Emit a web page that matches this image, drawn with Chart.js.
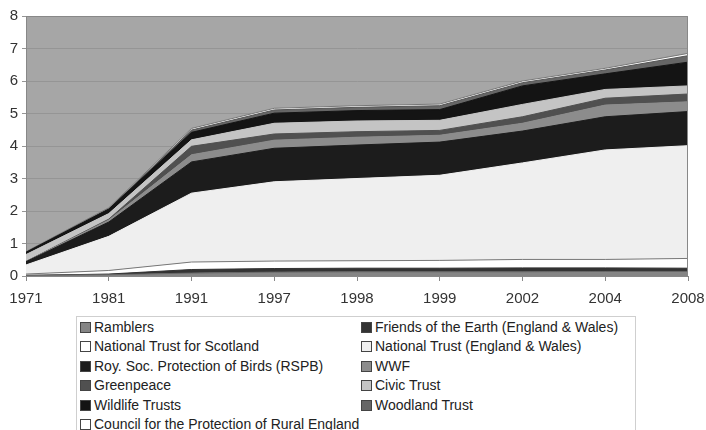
<!DOCTYPE html>
<html>
<head>
<meta charset="utf-8">
<script src="https://cdn.jsdelivr.net/npm/chart.js@4.4.0/dist/chart.umd.min.js"></script>
<style>
    body { margin: 0; background: #fff; width: 706px; height: 430px; overflow: hidden; position: relative; font-family: "Liberation Sans", Arial, sans-serif; }
    #wrap { position: absolute; left: 0; top: 0; width: 706px; height: 310px; }
    #legend { position: absolute; left: 76px; top: 316px; width: 560px; height: 130px; border: 1px solid #cfcfcf; box-sizing: border-box; }
    .item { position: absolute; font-size: 14px; color: #222; white-space: nowrap; line-height: 16px; }
    .box { display: inline-block; width: 9px; height: 9px; border: 1px solid #444; margin-right: 3px; vertical-align: -1px; }
</style>
</head>
<body>
<div id="wrap"><canvas id="myChart"></canvas></div>
<div id="legend"></div>
<script>
// membership, millions
const years = ["1971", "1981", "1991", "1997", "1998", "1999", "2002", "2004", "2008"];

const ramblers      = [0.02, 0.04, 0.09, 0.12, 0.13, 0.13, 0.13, 0.14, 0.14];
const friendsEarth  = [0.00, 0.02, 0.11, 0.11, 0.11, 0.11, 0.12, 0.11, 0.10];
const ntScotland    = [0.04, 0.11, 0.23, 0.23, 0.23, 0.24, 0.26, 0.26, 0.30];
const ntEngland     = [0.28, 1.05, 2.12, 2.44, 2.53, 2.62, 2.97, 3.37, 3.47];
const rspb          = [0.10, 0.44, 0.96, 1.03, 1.03, 1.02, 0.98, 1.02, 1.05];
const wwf           = [0.01, 0.06, 0.22, 0.25, 0.24, 0.21, 0.24, 0.36, 0.30];
const greenpeace    = [0.00, 0.03, 0.26, 0.19, 0.17, 0.15, 0.20, 0.21, 0.24];
const civicTrust    = [0.21, 0.17, 0.20, 0.33, 0.33, 0.31, 0.38, 0.27, 0.25];
const wildlife      = [0.07, 0.14, 0.23, 0.31, 0.32, 0.33, 0.57, 0.48, 0.73];
const woodland      = [0.00, 0.01, 0.07, 0.10, 0.10, 0.12, 0.10, 0.12, 0.20];
const cpre          = [0.02, 0.03, 0.05, 0.05, 0.05, 0.05, 0.05, 0.05, 0.07];

const yTicks = [0, 1, 2, 3, 4, 5, 6, 7, 8];

const series = [
    { label: "Ramblers", data: ramblers, fill: "#858585", line: "#666" },
    { label: "Friends of the Earth (England & Wales)", data: friendsEarth, fill: "#333333", line: "#333" },
    { label: "National Trust for Scotland", data: ntScotland, fill: "#ffffff", line: "#777" },
    { label: "National Trust (England & Wales)", data: ntEngland, fill: "#efefef", line: "#efefef" },
    { label: "Roy. Soc. Protection of Birds (RSPB)", data: rspb, fill: "#1c1c1c", line: "#1c1c1c" },
    { label: "WWF", data: wwf, fill: "#8c8c8c", line: "#8c8c8c" },
    { label: "Greenpeace", data: greenpeace, fill: "#505050", line: "#505050" },
    { label: "Civic Trust", data: civicTrust, fill: "#c4c4c4", line: "#c4c4c4" },
    { label: "Wildlife Trusts", data: wildlife, fill: "#141414", line: "#141414" },
    { label: "Woodland Trust", data: woodland, fill: "#666666", line: "#555" },
    { label: "Council for the Protection of Rural England", data: cpre, fill: "#ffffff", line: "#777" }
];

const datasets = series.map((s, i) => ({
    label: s.label,
    data: s.data,
    backgroundColor: s.fill,
    borderColor: s.line,
    borderWidth: 1,
    pointRadius: 0,
    tension: 0,
    fill: i === 0 ? "origin" : "-1"
}));

// grey plot area like the original
const plotBackground = {
    id: "plotBackground",
    beforeDraw(chart) {
        const a = chart.chartArea;
        const ctx = chart.ctx;
        ctx.save();
        ctx.fillStyle = "#a6a6a6";
        ctx.fillRect(a.left, a.top, a.right - a.left, a.bottom - a.top);
        ctx.restore();
    },
    afterDatasetsDraw(chart) {
        const a = chart.chartArea;
        const ctx = chart.ctx;
        ctx.save();
        ctx.strokeStyle = "#888";
        ctx.lineWidth = 1;
        ctx.beginPath();
        ctx.moveTo(a.left + 0.5, a.top + 0.5);
        ctx.lineTo(a.right - 0.5, a.top + 0.5);
        ctx.lineTo(a.right - 0.5, a.bottom);
        ctx.stroke();
        ctx.restore();
    }
};

const ctx = document.getElementById("myChart").getContext("2d");
new Chart(ctx, {
    type: "line",
    data: { labels: years, datasets: datasets },
    options: {
        responsive: true,
        maintainAspectRatio: false,
        animation: false,
        layout: { padding: { left: 0, right: 0, top: 16, bottom: 0 } },
        plugins: { legend: { display: false }, tooltip: { enabled: false } },
        scales: {
            x: {
                offset: false,
                grid: { drawOnChartArea: false, color: "#888", tickLength: 5 },
                border: { color: "#888" },
                ticks: { color: "#333", padding: 9, maxRotation: 0, font: { family: "Liberation Sans", size: 15 } },
                afterFit: scale => { scale.height = 34; scale.paddingRight = 18; }
            },
            y: {
                stacked: true,
                min: 0,
                max: 8,
                afterBuildTicks: scale => { scale.ticks = yTicks.map(v => ({ value: v })); },
                grid: { color: "#959595", tickLength: 4 },
                border: { color: "#888" },
                ticks: { color: "#333", padding: 4, font: { family: "Liberation Sans", size: 15 } },
                afterFit: scale => { scale.width = 26; }
            }
        }
    },
    plugins: [plotBackground]
});

// legend, two columns, same order as the stack
const legend = document.getElementById("legend");
series.forEach((s, i) => {
    const el = document.createElement("div");
    el.className = "item";
    el.style.left = (3 + (i % 2) * 281) + "px";
    el.style.top = (2 + Math.floor(i / 2) * 19.4) + "px";
    el.innerHTML = '<span class="box" style="background:' + s.fill + '"></span>' + s.label.replace("&", "&amp;");
    legend.appendChild(el);
});
</script>
</body>
</html>
